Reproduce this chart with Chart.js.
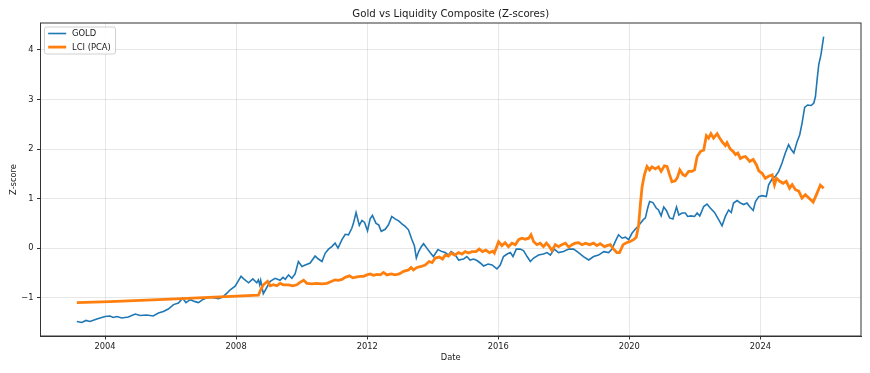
<!DOCTYPE html>
<html>
<head>
<meta charset="utf-8">
<script src="https://cdn.jsdelivr.net/npm/chart.js@4/dist/chart.umd.min.js"></script>
<style>
  html, body { margin: 0; padding: 0; background: #ffffff; }
  #wrap { width: 870px; height: 373px; }
</style>
</head>
<body>
<div id="wrap"><canvas id="c" width="870" height="373"></canvas></div>
<script>
// ---- Data (decimal years, z-scores) ----
const chartTitle = "Gold vs Liquidity Composite (Z-scores)";
const xAxisLabel = "Date";
const yAxisLabel = "Z-score";
const seriesNames = ["GOLD", "LCI (PCA)"];
const xTickYears = [2004, 2008, 2012, 2016, 2020, 2024];
const yTickValues = [-1, 0, 1, 2, 3, 4];

const goldDates = [
  2003.14, 2003.29, 2003.42, 2003.54, 2003.75, 2004.00, 2004.15, 2004.25, 2004.36, 2004.51,
  2004.71, 2004.92, 2005.07, 2005.27, 2005.47, 2005.63, 2005.78, 2005.93, 2006.09, 2006.24,
  2006.37, 2006.47, 2006.60, 2006.75, 2006.85, 2007.00, 2007.15, 2007.31, 2007.46, 2007.59,
  2007.72, 2007.82, 2007.97, 2008.04, 2008.15, 2008.25, 2008.38, 2008.51, 2008.63, 2008.68,
  2008.72, 2008.75, 2008.83, 2008.94, 2009.04, 2009.19, 2009.34, 2009.43, 2009.50, 2009.60,
  2009.70, 2009.80, 2009.90, 2010.01, 2010.11, 2010.26, 2010.41, 2010.51, 2010.62, 2010.72,
  2010.82, 2010.92, 2011.02, 2011.11, 2011.23, 2011.33, 2011.43, 2011.53, 2011.58, 2011.66,
  2011.76, 2011.84, 2011.92, 2012.01, 2012.09, 2012.16, 2012.27, 2012.35, 2012.43, 2012.55,
  2012.65, 2012.75, 2012.85, 2012.96, 2013.06, 2013.16, 2013.26, 2013.36, 2013.44, 2013.50,
  2013.57, 2013.65, 2013.72, 2013.82, 2013.92, 2014.02, 2014.16, 2014.28, 2014.38, 2014.48,
  2014.56, 2014.67, 2014.79, 2014.94, 2015.04, 2015.14, 2015.25, 2015.35, 2015.45, 2015.55,
  2015.69, 2015.81, 2015.96, 2016.06, 2016.16, 2016.27, 2016.37, 2016.45, 2016.55, 2016.67,
  2016.77, 2016.88, 2016.98, 2017.08, 2017.23, 2017.38, 2017.49, 2017.59, 2017.71, 2017.84,
  2017.99, 2018.15, 2018.30, 2018.45, 2018.60, 2018.76, 2018.91, 2019.06, 2019.22, 2019.37,
  2019.47, 2019.57, 2019.67, 2019.78, 2019.88, 2019.98, 2020.08, 2020.18, 2020.28, 2020.42,
  2020.49, 2020.56, 2020.62, 2020.72, 2020.82, 2020.89, 2020.97, 2021.05, 2021.13, 2021.23,
  2021.33, 2021.44, 2021.51, 2021.61, 2021.71, 2021.78, 2021.88, 2021.99, 2022.07, 2022.15,
  2022.27, 2022.37, 2022.47, 2022.60, 2022.73, 2022.83, 2022.93, 2023.03, 2023.11, 2023.18,
  2023.29, 2023.39, 2023.49, 2023.59, 2023.67, 2023.78, 2023.85, 2023.95, 2024.05, 2024.18,
  2024.25, 2024.36, 2024.46, 2024.56, 2024.66, 2024.76, 2024.86, 2024.94, 2025.02, 2025.12,
  2025.20, 2025.27, 2025.35, 2025.44, 2025.55, 2025.63, 2025.68, 2025.73, 2025.78, 2025.85,
  2025.93
];
const goldValues = [
  -1.48, -1.50, -1.46, -1.48, -1.43, -1.38, -1.37, -1.40, -1.38, -1.41,
  -1.39, -1.33, -1.36, -1.35, -1.37, -1.31, -1.28, -1.23, -1.14, -1.11,
  -1.01, -1.10, -1.04, -1.08, -1.10, -1.03, -0.99, -1.00, -1.02, -0.99,
  -0.91, -0.84, -0.77, -0.69, -0.57, -0.63, -0.70, -0.62, -0.70, -0.64,
  -0.74, -0.65, -0.92, -0.79, -0.67, -0.61, -0.65, -0.59, -0.63, -0.54,
  -0.61, -0.52, -0.27, -0.37, -0.34, -0.30, -0.16, -0.22, -0.27, -0.10,
  -0.02, 0.03, 0.10, 0.00, 0.17, 0.28, 0.27, 0.40, 0.50, 0.72,
  0.46, 0.56, 0.52, 0.35, 0.59, 0.66, 0.50, 0.47, 0.34, 0.38,
  0.47, 0.64, 0.59, 0.55, 0.49, 0.44, 0.37, 0.18, 0.05, -0.20,
  -0.07, 0.03, 0.09, 0.00, -0.09, -0.17, -0.03, -0.07, -0.09, -0.14,
  -0.07, -0.12, -0.24, -0.22, -0.17, -0.24, -0.22, -0.25, -0.30, -0.36,
  -0.32, -0.34, -0.42, -0.34, -0.17, -0.12, -0.09, -0.17, -0.02, -0.02,
  -0.05, -0.17, -0.27, -0.20, -0.14, -0.12, -0.09, -0.14, -0.02, -0.09,
  -0.07, -0.02, -0.02, -0.09, -0.17, -0.24, -0.17, -0.14, -0.07, -0.09,
  -0.02, 0.13, 0.27, 0.20, 0.22, 0.17, 0.30, 0.38, 0.45, 0.57,
  0.61, 0.81, 0.94, 0.92, 0.81, 0.77, 0.65, 0.83, 0.76, 0.61,
  0.59, 0.83, 0.67, 0.71, 0.71, 0.64, 0.65, 0.64, 0.71, 0.65,
  0.84, 0.89, 0.81, 0.72, 0.57, 0.45, 0.64, 0.77, 0.72, 0.91,
  0.96, 0.91, 0.88, 0.91, 0.84, 0.76, 0.94, 1.04, 1.06, 1.04,
  1.28, 1.40, 1.45, 1.55, 1.72, 1.92, 2.09, 1.99, 1.92, 2.15,
  2.29, 2.52, 2.84, 2.89, 2.88, 2.93, 3.06, 3.40, 3.70, 3.91,
  4.27
];

const lciDates = [
  2003.14, 2004.15, 2006.00, 2008.68, 2008.75, 2008.83, 2008.96, 2009.04, 2009.14, 2009.24,
  2009.34, 2009.44, 2009.60, 2009.73, 2009.85, 2009.95, 2010.06, 2010.16, 2010.31, 2010.46,
  2010.62, 2010.77, 2010.92, 2011.02, 2011.12, 2011.23, 2011.33, 2011.46, 2011.56, 2011.69,
  2011.79, 2011.89, 2011.99, 2012.09, 2012.19, 2012.30, 2012.40, 2012.50, 2012.60, 2012.73,
  2012.85, 2012.98, 2013.11, 2013.26, 2013.34, 2013.41, 2013.52, 2013.65, 2013.77, 2013.89,
  2013.98, 2014.08, 2014.20, 2014.30, 2014.38, 2014.48, 2014.56, 2014.67, 2014.79, 2014.89,
  2014.99, 2015.09, 2015.20, 2015.32, 2015.42, 2015.52, 2015.62, 2015.73, 2015.83, 2015.88,
  2016.01, 2016.11, 2016.21, 2016.31, 2016.42, 2016.52, 2016.62, 2016.72, 2016.82, 2016.93,
  2017.00, 2017.08, 2017.18, 2017.28, 2017.38, 2017.47, 2017.54, 2017.64, 2017.74, 2017.84,
  2017.94, 2018.05, 2018.15, 2018.25, 2018.35, 2018.45, 2018.56, 2018.66, 2018.79, 2018.91,
  2019.01, 2019.11, 2019.24, 2019.32, 2019.42, 2019.52, 2019.62, 2019.70, 2019.81, 2019.91,
  2020.01, 2020.13, 2020.21, 2020.28, 2020.34, 2020.39, 2020.46, 2020.54, 2020.62, 2020.69,
  2020.79, 2020.89, 2020.97, 2021.07, 2021.15, 2021.23, 2021.30, 2021.40, 2021.47, 2021.54,
  2021.64, 2021.71, 2021.81, 2021.91, 2021.99, 2022.07, 2022.17, 2022.27, 2022.35, 2022.42,
  2022.49, 2022.57, 2022.68, 2022.76, 2022.83, 2022.93, 2022.98, 2023.08, 2023.17, 2023.24,
  2023.31, 2023.39, 2023.47, 2023.54, 2023.61, 2023.67, 2023.78, 2023.88, 2023.95, 2024.05,
  2024.15, 2024.25, 2024.36, 2024.43, 2024.49, 2024.59, 2024.69, 2024.79, 2024.89, 2024.97,
  2025.07, 2025.17, 2025.27, 2025.37, 2025.48, 2025.61, 2025.71, 2025.83, 2025.93
];
const lciValues = [
  -1.10, -1.08, -1.03, -0.95, -0.84, -0.74, -0.67, -0.76, -0.74, -0.76,
  -0.71, -0.74, -0.74, -0.76, -0.74, -0.69, -0.65, -0.71, -0.72, -0.71,
  -0.72, -0.71, -0.67, -0.64, -0.65, -0.63, -0.59, -0.56, -0.60, -0.58,
  -0.57, -0.57, -0.54, -0.52, -0.55, -0.53, -0.54, -0.49, -0.54, -0.52,
  -0.54, -0.52, -0.47, -0.44, -0.39, -0.44, -0.39, -0.37, -0.34, -0.27,
  -0.29, -0.20, -0.18, -0.22, -0.14, -0.16, -0.10, -0.14, -0.09, -0.12,
  -0.07, -0.10, -0.07, -0.07, -0.02, -0.07, -0.04, -0.09, -0.06, -0.10,
  0.13, 0.05, 0.11, 0.03, 0.10, 0.07, 0.17, 0.20, 0.18, 0.20,
  0.27, 0.13, 0.07, 0.10, 0.03, 0.10, 0.05, -0.05, 0.07, 0.03,
  0.07, 0.10, 0.02, 0.07, 0.10, 0.11, 0.07, 0.10, 0.07, 0.10,
  0.05, 0.09, 0.03, 0.05, 0.07, -0.02, -0.09, -0.09, 0.07, 0.11,
  0.13, 0.17, 0.22, 0.44, 0.91, 1.24, 1.48, 1.65, 1.58, 1.64,
  1.60, 1.64, 1.55, 1.66, 1.65, 1.48, 1.34, 1.36, 1.43, 1.58,
  1.48, 1.46, 1.55, 1.55, 1.58, 1.85, 1.95, 1.98, 2.27, 2.22,
  2.31, 2.22, 2.31, 2.22, 2.15, 2.07, 2.13, 2.00, 1.95, 1.89,
  1.92, 1.81, 1.84, 1.85, 1.80, 1.75, 1.79, 1.68, 1.56, 1.51,
  1.41, 1.45, 1.48, 1.28, 1.41, 1.35, 1.31, 1.35, 1.21, 1.28,
  1.18, 1.15, 1.01, 1.08, 1.01, 0.93, 1.08, 1.27, 1.21
];

// ---- Build datasets from arrays ----
const toPoints = (xs, ys) => xs.map((x, i) => ({ x: x, y: ys[i] }));
const FONT = "'DejaVu Sans', 'Liberation Sans', sans-serif";
const TEXT = '#1a1a1a';

const overlayPlugin = {
  id: 'overlay',
  afterDatasetsDraw(chart) {
    const { ctx, chartArea: a } = chart;
    ctx.save();
    ctx.strokeStyle = '#333333';
    ctx.lineWidth = 1;
    ctx.strokeRect(a.left, a.top, a.right - a.left, a.bottom - a.top);
    ctx.restore();
  },
  afterDraw(chart) {
    const { ctx, chartArea: a } = chart;
    ctx.save();
    // title
    ctx.fillStyle = TEXT;
    ctx.font = "10.2px " + FONT;
    ctx.textAlign = 'center';
    ctx.textBaseline = 'middle';
    ctx.fillText(chartTitle, (a.left + a.right) / 2, 14.5);
    // legend
    const bx = a.left + 4, by = a.top + 4, bw = 71, bh = 27;
    ctx.fillStyle = 'rgba(255,255,255,0.85)';
    ctx.strokeStyle = '#d0d0d0';
    ctx.lineWidth = 1;
    ctx.beginPath();
    if (ctx.roundRect) ctx.roundRect(bx, by, bw, bh, 2); else ctx.rect(bx, by, bw, bh);
    ctx.fill();
    ctx.stroke();
    ctx.font = "8.4px " + FONT;
    ctx.textAlign = 'left';
    ctx.textBaseline = 'middle';
    chart.data.datasets.forEach((ds, i) => {
      const row = ds.legendRow;
      const y = by + 6.5 + row * 13.6;
      ctx.strokeStyle = ds.borderColor;
      ctx.lineWidth = ds.borderWidth;
      ctx.beginPath();
      ctx.moveTo(bx + 3.7, y);
      ctx.lineTo(bx + 21.7, y);
      ctx.stroke();
      ctx.fillStyle = TEXT;
      ctx.fillText(ds.label, bx + 27.5, y + 0.5);
    });
    ctx.restore();
  }
};

const gridColor = 'rgba(176,176,176,0.3)';

new Chart(document.getElementById('c'), {
  type: 'line',
  data: {
    datasets: [
      {
        label: seriesNames[0],
        data: toPoints(goldDates, goldValues),
        borderColor: '#1f77b4',
        borderWidth: 1.6,
        pointRadius: 0,
        tension: 0,
        fill: false,
        order: 1,
        legendRow: 0
      },
      {
        label: seriesNames[1],
        data: toPoints(lciDates, lciValues),
        borderColor: '#ff7f0e',
        borderWidth: 2.8,
        pointRadius: 0,
        tension: 0,
        fill: false,
        order: 0,
        legendRow: 1
      }
    ]
  },
  options: {
    responsive: false,
    animation: false,
    devicePixelRatio: 1,
    layout: { padding: { left: 0, right: 9, top: 23, bottom: 0 } },
    plugins: {
      legend: { display: false },
      title: { display: false },
      tooltip: { enabled: false }
    },
    scales: {
      x: {
        type: 'linear',
        min: 2002.03,
        max: 2027.07,
        afterBuildTicks: (s) => { s.ticks = xTickYears.map(v => ({ value: v })); },
        afterFit: (s) => { s.height = 37; },
        grid: { color: gridColor, lineWidth: 1, tickColor: '#333333', tickLength: 3.5, tickWidth: 1 },
        border: { display: true, color: '#333333', width: 1 },
        ticks: {
          color: TEXT, font: { family: FONT, size: 8.3 }, padding: 2,
          maxRotation: 0, autoSkip: false,
          callback: (v) => String(v)
        },
        title: {
          display: true, text: xAxisLabel, color: TEXT,
          font: { family: FONT, size: 8.3 }, padding: { top: 0, bottom: 10.5 }
        }
      },
      y: {
        type: 'linear',
        min: -1.774,
        max: 4.545,
        afterBuildTicks: (s) => { s.ticks = yTickValues.map(v => ({ value: v })); },
        afterFit: (s) => { s.width = 40.5; },
        grid: { color: gridColor, lineWidth: 1, tickColor: '#333333', tickLength: 3.5, tickWidth: 1 },
        border: { display: true, color: '#333333', width: 1 },
        ticks: {
          color: TEXT, font: { family: FONT, size: 8.3 }, padding: 3.5,
          autoSkip: false,
          callback: (v) => v < 0 ? '\u2212' + Math.abs(v) : String(v)
        },
        title: {
          display: true, text: yAxisLabel, color: TEXT,
          font: { family: FONT, size: 8.3 }, padding: { top: 8.7, bottom: 0 }
        }
      }
    }
  },
  plugins: [overlayPlugin]
});
</script>
</body>
</html>
